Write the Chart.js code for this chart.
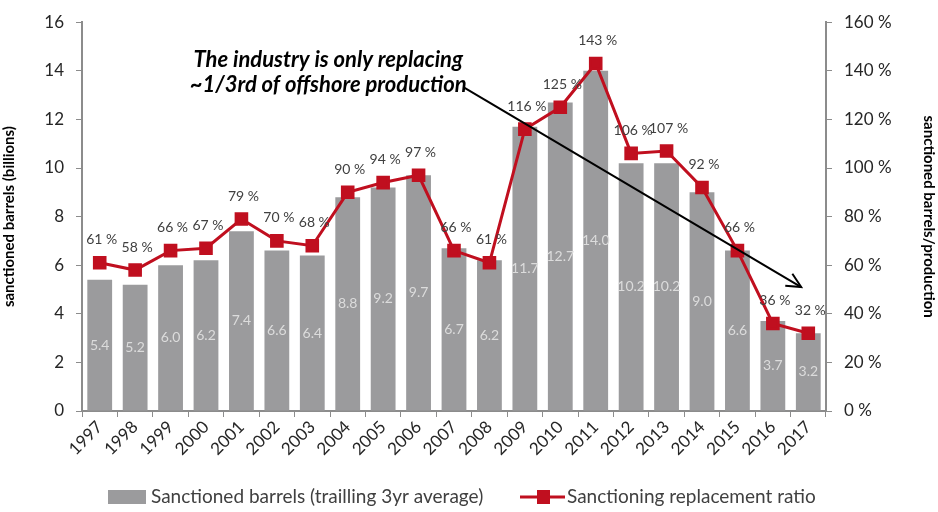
<!DOCTYPE html>
<html>
<head>
<meta charset="utf-8">
<script src="https://cdn.jsdelivr.net/npm/chart.js@4/dist/chart.umd.min.js"></script>
<style>
  html, body { margin: 0; padding: 0; background: #fff; }
  #wrap { width: 938px; height: 512px; }
</style>
</head>
<body>
<div id="wrap"><canvas id="sanctionChart" width="938" height="512"></canvas></div>
<script>
// chart data
const years = ['1997','1998','1999','2000','2001','2002','2003','2004','2005','2006','2007',
               '2008','2009','2010','2011','2012','2013','2014','2015','2016','2017'];
const sanctionedBarrels = [5.4, 5.2, 6.0, 6.2, 7.4, 6.6, 6.4, 8.8, 9.2, 9.7, 6.7,
                           6.2, 11.7, 12.7, 14.0, 10.2, 10.2, 9.0, 6.6, 3.7, 3.2];
const replacementRatio = [61, 58, 66, 67, 79, 70, 68, 90, 94, 97, 66,
                          61, 116, 125, 143, 106, 107, 92, 66, 36, 32];
const barLabel = 'Sanctioned barrels (trailling 3yr average)';
const lineLabel = 'Sanctioning replacement ratio';
const noteLines = ['The industry is only replacing', '~1/3rd of offshore production'];

const FONT = 'Lato, "Open Sans", sans-serif';
const BAR_COLOR = '#9b9b9d';
const LINE_COLOR = '#c00f1f';
const TEXT_COLOR = '#262626';

// value labels on bars and line points
const valueLabels = {
    id: 'valueLabels',
    afterDatasetsDraw(chart) {
        const ctx = chart.ctx;
        ctx.save();
        ctx.textAlign = 'center';
        ctx.textBaseline = 'middle';
        // bar values, centred inside bar
        const barMeta = chart.getDatasetMeta(0);
        ctx.font = '14px ' + FONT;
        ctx.fillStyle = '#dcdcdc';
        barMeta.data.forEach((bar, i) => {
            const mid = (bar.y + bar.base) / 2;
            ctx.fillText(sanctionedBarrels[i].toFixed(1), bar.x, mid);
        });
        // ratio values, above points
        const lineMeta = chart.getDatasetMeta(1);
        ctx.font = '14px ' + FONT;
        ctx.fillStyle = '#404040';
        lineMeta.data.forEach((pt, i) => {
            ctx.fillText(replacementRatio[i] + ' %', pt.x + 2, pt.y - 23);
        });
        ctx.restore();
    }
};

// arrow + note, placed in data coordinates
const noteArrow = {
    id: 'noteArrow',
    afterDraw(chart) {
        const xs = chart.scales.x, ys = chart.scales.y;
        const ctx = chart.ctx;
        const x0 = xs.getPixelForValue(10.3), y0 = ys.getPixelForValue(13.3);
        const x1 = xs.getPixelForValue(19.8), y1 = ys.getPixelForValue(5.1);
        ctx.save();
        ctx.strokeStyle = '#000';
        ctx.lineWidth = 2;
        ctx.beginPath();
        ctx.moveTo(x0, y0);
        ctx.lineTo(x1, y1);
        ctx.stroke();
        const ang = Math.atan2(y1 - y0, x1 - x0);
        const head = 16;
        ctx.beginPath();
        ctx.moveTo(x1 - head * Math.cos(ang - 0.45), y1 - head * Math.sin(ang - 0.45));
        ctx.lineTo(x1, y1);
        ctx.lineTo(x1 - head * Math.cos(ang + 0.45), y1 - head * Math.sin(ang + 0.45));
        ctx.stroke();

        ctx.font = 'italic bold 22px ' + FONT;
        ctx.fillStyle = '#000';
        ctx.textAlign = 'center';
        ctx.textBaseline = 'middle';
        const cx = xs.getPixelForValue(6.45);
        ctx.fillText(noteLines[0], cx, ys.getPixelForValue(14.45));
        ctx.fillText(noteLines[1], cx, ys.getPixelForValue(13.4));
        ctx.restore();
    }
};

// legend drawn at bottom
const bottomLegend = {
    id: 'bottomLegend',
    afterDraw(chart) {
        const ctx = chart.ctx;
        const y = 497;
        ctx.save();
        ctx.font = '19px ' + FONT;
        ctx.textBaseline = 'middle';
        // bars
        ctx.fillStyle = BAR_COLOR;
        ctx.fillRect(108, y - 7, 38, 14);
        ctx.fillStyle = '#404040';
        ctx.fillText(chart.data.datasets[0].label, 151, y);
        // line
        ctx.strokeStyle = LINE_COLOR;
        ctx.lineWidth = 3;
        ctx.beginPath();
        ctx.moveTo(520, y);
        ctx.lineTo(565, y);
        ctx.stroke();
        ctx.fillStyle = LINE_COLOR;
        ctx.fillRect(537, y - 7, 13, 14);
        ctx.fillStyle = '#404040';
        ctx.fillText(chart.data.datasets[1].label, 567, y);
        ctx.restore();
    }
};

const ctx = document.getElementById('sanctionChart').getContext('2d');
window.sanctionChartInstance = new Chart(ctx, {
    data: {
        labels: years,
        datasets: [{
            type: 'bar',
            label: barLabel,
            data: sanctionedBarrels,
            backgroundColor: BAR_COLOR,
            categoryPercentage: 1.0,
            barPercentage: 0.7,
            yAxisID: 'y',
            order: 2
        }, {
            type: 'line',
            label: lineLabel,
            data: replacementRatio,
            borderColor: LINE_COLOR,
            backgroundColor: LINE_COLOR,
            borderWidth: 3,
            pointStyle: 'rect',
            pointRadius: 7.5,
            pointHoverRadius: 7.5,
            tension: 0,
            yAxisID: 'y1',
            order: 1
        }]
    },
    options: {
        responsive: false,
        animation: false,
        layout: { padding: { top: 19, bottom: 0, left: 0, right: 0 } },
        scales: {
            x: {
                grid: { drawOnChartArea: false, color: '#8c8c8c', tickLength: 6 },
                border: { color: '#8c8c8c', width: 2 },
                ticks: { color: TEXT_COLOR, font: { family: FONT, size: 17 },
                         maxRotation: 45, minRotation: 45, padding: 0 },
                afterFit(scale) { scale.height = 101; }
            },
            y: {
                position: 'left',
                min: 0, max: 16,
                ticks: { stepSize: 2, color: TEXT_COLOR, font: { family: FONT, size: 17 }, padding: 12 },
                grid: { drawOnChartArea: false, color: '#8c8c8c', tickLength: 6 },
                border: { color: '#8c8c8c', width: 2 },
                title: { display: true, text: 'sanctioned barrels (billions)', color: '#000',
                         font: { family: FONT, size: 15, weight: 'bold' }, padding: 0 },
                afterFit(scale) { scale.width = 82; }
            },
            y1: {
                position: 'right',
                min: 0, max: 160,
                ticks: { stepSize: 20, color: TEXT_COLOR, font: { family: FONT, size: 17 }, padding: 12,
                         callback: v => v + ' %' },
                grid: { drawOnChartArea: false, color: '#8c8c8c', tickLength: 6 },
                border: { color: '#8c8c8c', width: 2 },
                title: { display: true, text: 'sanctioned barrels/production', color: '#000',
                         font: { family: FONT, size: 15, weight: 'bold' }, padding: 0 },
                afterFit(scale) { scale.width = 112; }
            }
        },
        plugins: {
            legend: { display: false },
            tooltip: { enabled: false }
        }
    },
    plugins: [valueLabels, noteArrow, bottomLegend]
});
</script>
</body>
</html>
